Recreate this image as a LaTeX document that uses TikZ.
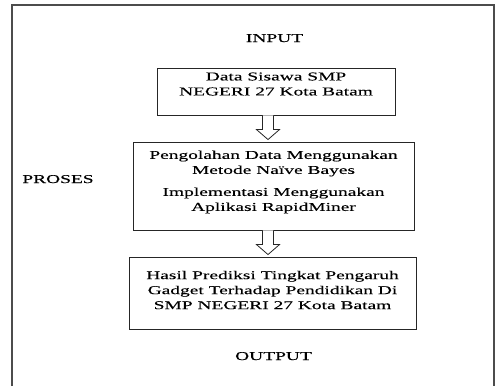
\documentclass[tikz,border=0pt]{standalone}
\usepackage{fontspec}
\setmainfont[FakeStretch=1.62,FakeBold=0.2]{Liberation Serif}
\usetikzlibrary{calc}
\usetikzlibrary{positioning}

\newcommand{\inbox}[4]{\begin{minipage}[c][#2][c]{#1}\centering #4\par\vspace{#3}\end{minipage}}

\tikzset{
  stage/.style={draw=black!85,line width=0.9pt,inner sep=0pt,font=\fontsize{12}{15}\selectfont},
  tag/.style={anchor=base,font=\fontsize{12}{15}\selectfont},
  hollow/.style={draw=black!85,line width=0.8pt,fill=white,line join=miter}
}

\begin{document}
\begin{tikzpicture}[x=1pt,y=-1pt]
\useasboundingbox (0,0) rectangle (497,386);
\draw[gray!60!black,line width=1.3pt] (12,386) -- (12,5) -- (494,5) -- (494,386);

\node[tag] (input) at (274.5,42) {INPUT};
\node[tag] (proses) at (58,183) {PROSES};
\node[tag] (output) at (273.5,360) {OUTPUT};

\node[stage] (data) at (276,91.5) {\inbox{238pt}{47pt}{15pt}{Data Sisawa SMP\\NEGERI 27 Kota Batam}};
\node[stage] (olah) at (273.5,186) {\inbox{281pt}{88pt}{8pt}{Pengolahan Data Menggunakan\\Metode Naïve Bayes\\[7pt]Implementasi Menggunakan\\Aplikasi RapidMiner}};
\node[stage] (hasil) at (272.5,293) {\inbox{287pt}{72pt}{6pt}{Hasil Prediksi Tingkat Pengaruh\\Gadget Terhadap Pendidikan Di\\SMP NEGERI 27 Kota Batam}};

\coordinate (ax) at (268,0);
\draw[hollow] ($(data.south -| ax)+(-5.5,0)$) -- ($(olah.north -| ax)+(-5.5,-12)$) -- ++(-6,0)
  -- ($(olah.north -| ax)+(0,-2)$) -- ($(olah.north -| ax)+(11.5,-12)$) -- ++(-6,0)
  -- ($(data.south -| ax)+(5.5,0)$);
\draw[hollow] ($(olah.south -| ax)+(-5.5,0)$) -- ($(hasil.north -| ax)+(-5.5,-12)$) -- ++(-6,0)
  -- ($(hasil.north -| ax)+(0,-2)$) -- ($(hasil.north -| ax)+(11.5,-12)$) -- ++(-6,0)
  -- ($(olah.south -| ax)+(5.5,0)$);
\end{tikzpicture}
\end{document}
